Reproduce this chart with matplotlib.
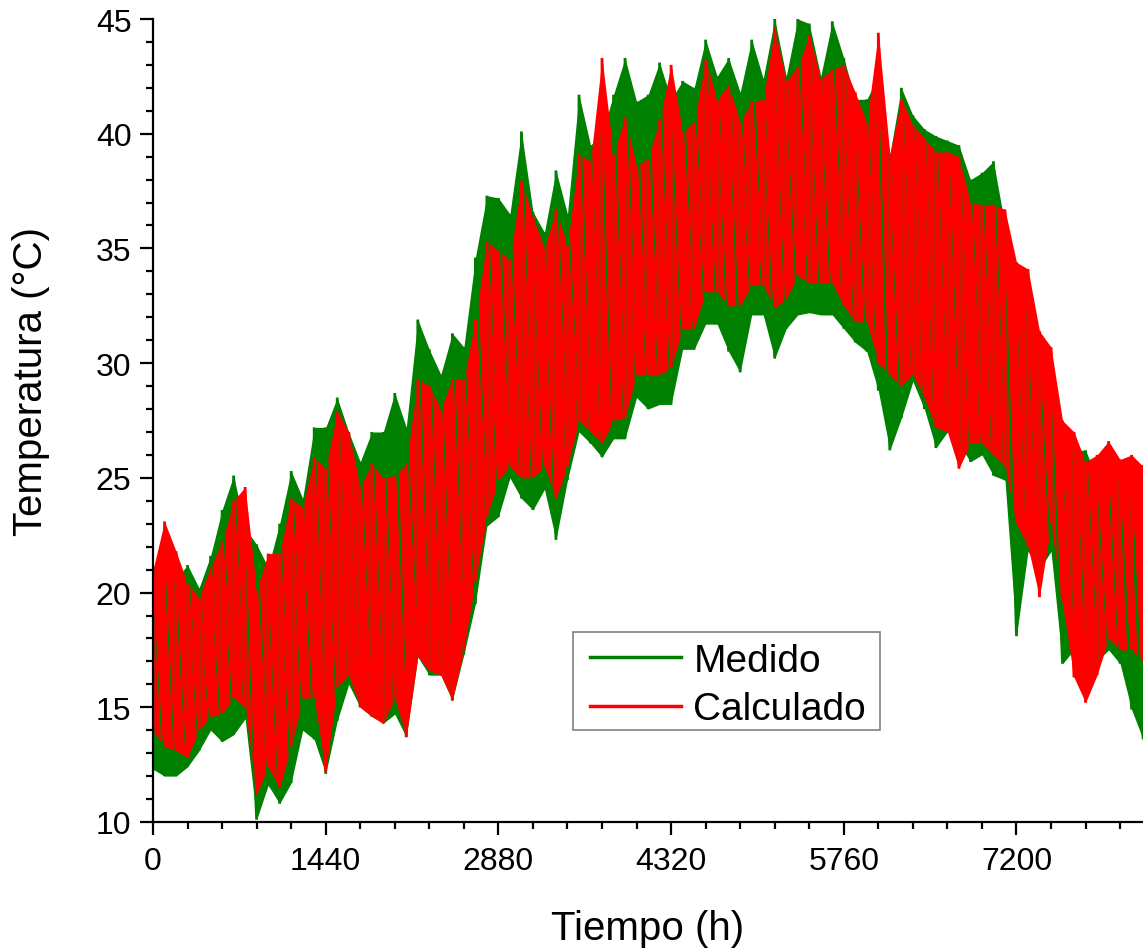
import numpy as np
import matplotlib
matplotlib.use("Agg")
import matplotlib.pyplot as plt
from matplotlib.patches import Rectangle
from matplotlib.ticker import MultipleLocator

plt.rcParams['font.family'] = ['Liberation Sans', 'DejaVu Sans']

# Sampling instants (hours) of the envelope readings
hours = np.arange(87) * 96

# Measured temperature: upper and lower envelope (°C)
meas_hi = [21.0, 22.3, 20.6, 21.2, 20.2, 21.6, 23.6, 25.1, 22.8, 22.1,
           21.1, 23.0, 25.3, 24.1, 27.2, 27.2, 28.5, 27.0, 25.7, 27.0,
           27.0, 28.7, 27.2, 31.9, 30.6, 29.5, 31.3, 30.7, 34.6, 37.3,
           37.2, 36.5, 40.1, 36.6, 35.7, 38.4, 36.5, 41.7, 39.5, 40.0,
           41.7, 43.3, 41.4, 41.7, 43.1, 41.5, 42.3, 42.0, 44.1, 42.5,
           43.3, 41.8, 44.1, 42.4, 45.0, 42.5, 45.0, 44.8, 42.5, 44.9,
           43.3, 41.5, 41.5, 42.5, 39.1, 42.0, 40.8, 40.2, 39.9, 39.7,
           39.5, 38.0, 38.3, 38.8, 36.0, 34.0, 32.3, 30.5, 29.5, 26.5,
           26.2, 26.2, 25.0, 25.5, 25.0, 24.0, 21.0]
meas_lo = [12.3, 12.0, 12.0, 12.4, 13.1, 14.0, 13.5, 13.8, 14.5, 10.1,
           11.6, 10.8, 11.7, 14.0, 13.6, 12.1, 14.4, 16.0, 15.0, 14.6,
           14.3, 14.7, 13.7, 17.2, 16.4, 16.4, 15.3, 17.3, 19.5, 22.9,
           23.3, 25.0, 24.1, 23.6, 24.5, 22.3, 24.9, 27.0, 26.5, 25.9,
           26.7, 26.7, 28.5, 28.0, 28.2, 28.2, 30.6, 30.6, 31.7, 31.7,
           30.5, 29.6, 32.1, 32.1, 30.2, 31.5, 32.1, 32.2, 32.1, 32.1,
           31.5, 30.9, 30.5, 28.8, 26.2, 27.6, 29.2, 28.0, 26.3, 27.0,
           26.5, 25.7, 26.0, 25.1, 24.9, 18.1, 21.8, 21.0, 21.8, 16.9,
           17.5, 17.5, 17.0, 17.5, 16.9, 14.9, 13.6]

# Calculated temperature: upper and lower envelope (°C)
calc_hi = [21.0, 23.1, 21.8, 20.4, 19.8, 21.1, 22.2, 24.0, 24.6, 20.1,
           21.7, 21.7, 24.1, 23.7, 25.9, 25.4, 27.9, 27.0, 24.6, 25.6,
           25.0, 25.1, 25.6, 29.3, 29.0, 28.0, 29.3, 29.3, 31.9, 35.3,
           34.9, 34.5, 37.9, 36.4, 35.0, 36.7, 35.1, 39.1, 38.8, 43.3,
           39.1, 40.7, 38.6, 38.9, 40.6, 43.0, 40.1, 40.5, 43.2, 41.5,
           42.1, 40.5, 41.4, 41.5, 44.6, 42.3, 42.9, 44.3, 42.4, 42.8,
           43.0, 41.8, 40.5, 44.4, 39.1, 41.5, 40.4, 39.8, 39.2, 39.2,
           39.0, 37.0, 36.9, 36.9, 36.7, 34.4, 34.1, 31.4, 30.7, 27.5,
           27.0, 25.7, 26.0, 26.6, 25.8, 26.0, 25.5]
calc_lo = [14.0, 13.3, 13.1, 12.8, 14.0, 14.6, 14.7, 15.4, 15.0, 11.2,
           12.4, 11.5, 13.3, 15.4, 15.4, 12.2, 15.9, 16.4, 15.0, 14.6,
           14.3, 15.4, 13.7, 17.2, 16.6, 16.4, 15.3, 17.5, 20.5, 23.3,
           24.9, 25.5, 25.0, 25.0, 25.5, 24.1, 25.5, 27.5, 27.0, 26.5,
           27.5, 27.6, 29.5, 29.5, 29.5, 29.8, 31.5, 31.5, 33.1, 33.1,
           32.5, 32.5, 33.4, 33.4, 32.4, 32.8, 33.8, 33.5, 33.5, 33.5,
           32.5, 31.8, 31.8, 30.0, 29.5, 29.0, 29.5, 28.5, 27.2, 27.0,
           25.4, 26.5, 26.5, 26.0, 25.5, 23.0, 22.0, 19.8, 23.0, 19.5,
           16.3, 15.2, 16.4, 18.0, 17.5, 17.5, 17.0]

x_ticks = [0, 1440, 2880, 4320, 5760, 7200]
y_ticks = [10, 15, 20, 25, 30, 35, 40, 45]

GREEN = '#008000'
RED = '#ff0000'

fig = plt.figure(figsize=(11.43, 9.53), dpi=100)
ax = fig.add_axes([153 / 1143, 1 - 823 / 953, 1 - 153 / 1143, (823 - 20) / 953])


def draw_series(lo, hi, color, label):
    lo = np.asarray(lo)
    hi = np.asarray(hi)
    ax.fill_between(hours, lo, hi, color=color, lw=0)
    # vertical swing lo -> hi at each sample, then on to the next low
    xs = np.repeat(hours, 2)
    ys = np.column_stack([lo, hi]).ravel()
    ax.plot(xs, ys, color=color, lw=2.0, label=label, solid_joinstyle='miter')


draw_series(meas_lo, meas_hi, GREEN, 'Medido')
draw_series(calc_lo, calc_hi, RED, 'Calculado')

ax.set_xlim(0, 8255)
ax.set_ylim(10, 45)
ax.set_xticks(x_ticks)
ax.set_yticks(y_ticks)
ax.xaxis.set_minor_locator(MultipleLocator(288))
ax.yaxis.set_minor_locator(MultipleLocator(1))

for side in ('top', 'right'):
    ax.spines[side].set_visible(False)
for side in ('left', 'bottom'):
    ax.spines[side].set_linewidth(1.6)

ax.tick_params(which='major', direction='out', length=9.5, width=1.6,
               labelsize=23)
ax.tick_params(axis='x', which='major', pad=8)
ax.tick_params(axis='y', which='major', pad=6)
ax.tick_params(which='minor', direction='out', length=4.8, width=1.6)

ax.set_xlabel('Tiempo (h)', fontsize=29)
ax.set_ylabel('Temperatura (°C)', fontsize=29)
ax.xaxis.set_label_coords(0.5, -0.108)
ax.yaxis.set_label_coords(-0.104, 0.55)

# Legend entries, with a plain grey box drawn around them
leg = ax.legend(loc='upper left', bbox_to_anchor=(0.4343, 0.2316),
                borderaxespad=0, fontsize=28, handlelength=2.34,
                handletextpad=0.33, borderpad=0.17, labelspacing=0.33,
                frameon=False)
for line in leg.get_lines():
    line.set_linewidth(2.5)
ax.add_patch(Rectangle((0.4242, 0.1146), 0.3101, 0.1220,
                       transform=ax.transAxes, facecolor='white',
                       edgecolor='#808080', lw=1.2, zorder=4))
leg.set_zorder(5)

fig.savefig('out.png', dpi=100)
